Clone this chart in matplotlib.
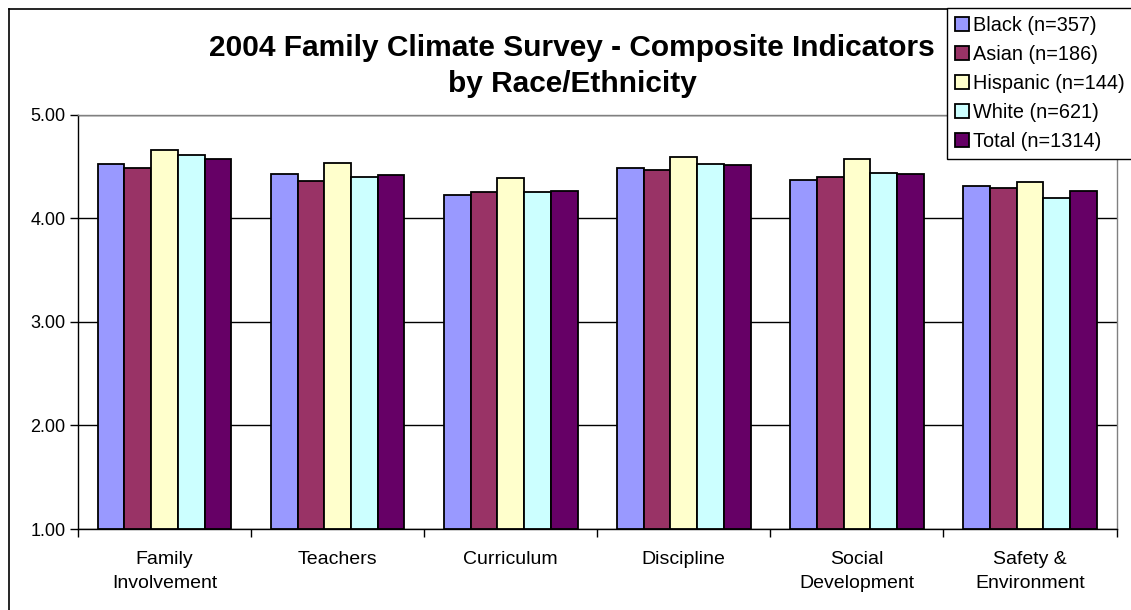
import matplotlib
matplotlib.use("Agg")
import matplotlib.pyplot as plt
import numpy as np
from matplotlib.lines import Line2D

plt.rcParams['font.family'] = ['Liberation Sans', 'DejaVu Sans']

categories = ["Family\nInvolvement", "Teachers", "Curriculum", "Discipline",
              "Social\nDevelopment", "Safety &\nEnvironment"]
series_names = ["Black (n=357)", "Asian (n=186)", "Hispanic (n=144)",
                "White (n=621)", "Total (n=1314)"]
black = [4.52, 4.43, 4.22, 4.48, 4.37, 4.31]
asian = [4.48, 4.36, 4.25, 4.46, 4.40, 4.29]
hispanic = [4.66, 4.53, 4.39, 4.59, 4.57, 4.35]
white = [4.61, 4.40, 4.25, 4.52, 4.44, 4.19]
total = [4.57, 4.42, 4.26, 4.51, 4.43, 4.26]
yticks = [1.0, 2.0, 3.0, 4.0, 5.0]
ytick_labels = ["1.00", "2.00", "3.00", "4.00", "5.00"]

series = [black, asian, hispanic, white, total]
colors = ["#9999FF", "#993366", "#FFFFCC", "#CCFFFF", "#660066"]

W, H = 1131, 610
fig = plt.figure(figsize=(W / 100, H / 100), dpi=100)
ax = fig.add_axes([78 / W, (H - 529) / H, (1116.5 - 78) / W, (529 - 114.5) / H])

x = np.arange(len(categories))
bw = 0.1545
n = len(series)
for i, (vals, c) in enumerate(zip(series, colors)):
    off = (i - (n - 1) / 2) * bw
    ax.bar(x + off, np.array(vals) - 1.0, bottom=1.0, width=bw, color=c,
           edgecolor="black", linewidth=1.3, label=series_names[i], zorder=3)

ax.set_xlim(-0.5, len(categories) - 0.5)
ax.set_ylim(1.0, 5.0)
ax.set_yticks(yticks)
ax.set_yticklabels(ytick_labels, fontsize=13)
ax.yaxis.grid(True, color="black", linewidth=1.0, zorder=0)
ax.set_axisbelow(True)

ax.set_xticks(x)
ax.set_xticklabels(categories, fontsize=14, linespacing=1.55)
ax.tick_params(axis="x", which="major", length=0, pad=16)
ax.set_xticks(np.arange(-0.5, len(categories)), minor=True)
ax.tick_params(axis="x", which="minor", length=6, direction="out", width=1)
ax.tick_params(axis="y", length=6, direction="out", width=1, pad=3)

for s in ["top", "right"]:
    ax.spines[s].set_color("#808080")
    ax.spines[s].set_linewidth(1.0)
for s in ["left", "bottom"]:
    ax.spines[s].set_color("black")
    ax.spines[s].set_linewidth(1.0)

fig.text(572 / W, 1 - 66 / H, "2004 Family Climate Survey - Composite Indicators\nby Race/Ethnicity",
         ha="center", va="center", fontsize=21.5, fontweight="bold", linespacing=1.4)

# outer chart border (left and top visible)
fig.add_artist(Line2D([8.5 / W, 8.5 / W], [0, 1 - 9 / H], transform=fig.transFigure, color="black", lw=1.2))
fig.add_artist(Line2D([8.5 / W, 1], [1 - 9 / H, 1 - 9 / H], transform=fig.transFigure, color="black", lw=1.2))

leg = fig.legend(loc="upper left", bbox_to_anchor=(947 / W, 1 - 8 / H), fontsize=14.3,
                 frameon=True, fancybox=False, edgecolor="black", framealpha=1,
                 handlelength=0.7, handleheight=0.7, handletextpad=0.2,
                 labelspacing=0.5, borderpad=0.4, borderaxespad=0)
leg.get_frame().set_linewidth(1.0)

fig.savefig("out.png", dpi=100)
